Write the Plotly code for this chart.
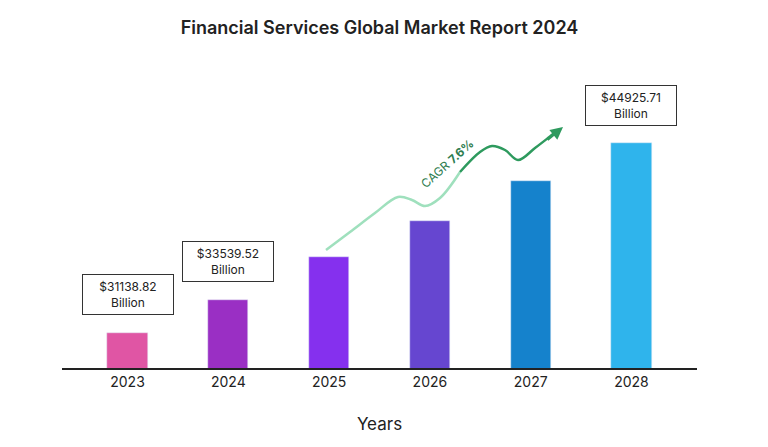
import plotly.graph_objects as go

years = ["2023", "2024", "2025", "2026", "2027", "2028"]
values = [31138.82, 33539.52, 36650, 39270, 42170, 44925.71]
colors = ["#e055a4", "#9a2fc4", "#8530ee", "#6646d0", "#1582cc", "#2fb4ec"]
labels = {0: "$31138.82<br>Billion", 1: "$33539.52<br>Billion", 5: "$44925.71<br>Billion"}

fig = go.Figure()
fig.add_trace(go.Bar(x=list(range(6)), y=values, marker_color=colors, width=0.4,
                     showlegend=False, hoverinfo="skip"))

wx = [326, 350, 375, 398, 412, 425, 440, 460, 480, 492, 505, 518, 535, 548, 558]
wy = [250, 232, 213, 197, 200, 206, 198, 172, 152, 146, 150, 160, 148, 138, 130]
fig.add_trace(go.Scatter(x=wx[:8], y=wy[:8], xaxis="x2", yaxis="y2", mode="lines",
                         line=dict(color="#9fe0bd", width=2.5, shape="spline"), showlegend=False))
fig.add_trace(go.Scatter(x=wx[7:], y=wy[7:], xaxis="x2", yaxis="y2", mode="lines",
                         line=dict(color="#2e9a5e", width=2.5, shape="spline"), showlegend=False))
fig.add_annotation(x=563, y=127, ax=546, ay=141, xref="x2", yref="y2", axref="x2", ayref="y2",
                   showarrow=True, arrowhead=2, arrowsize=1, arrowwidth=2.5, arrowcolor="#2e9a5e", text="")
fig.add_annotation(x=447, y=163, xref="x2", yref="y2", text="CAGR <b>7.6%</b>", showarrow=False,
                   textangle=-42, font=dict(size=12, color="#2e7d4f", family="Inter"))

for i, t in labels.items():
    fig.add_annotation(x=i, y=values[i], xref="x", yref="y", text=t, showarrow=False,
                       yshift=38, font=dict(size=12, color="#222", family="Inter"),
                       bordercolor="#333", borderwidth=1, borderpad=4, bgcolor="white", width=82)

fig.update_layout(
    width=768, height=447, plot_bgcolor="white", paper_bgcolor="white",
    margin=dict(l=54, r=79, t=52, b=87, autoexpand=False), bargap=0,
    title=dict(text="Financial Services Global Market Report 2024", x=0.5, xref="paper",
               y=0.955, yref="container", xanchor="center", yanchor="middle",
               font=dict(size=18, color="#222", family="Inter", weight=600)),
    xaxis=dict(range=[-0.65, 5.65], tickvals=list(range(6)), ticktext=years, showgrid=False,
               showline=True, linecolor="#222", linewidth=1.5, ticks="", zeroline=False,
               automargin=False,
               tickfont=dict(size=14, color="#222", family="Inter"),
               title=dict(text="Years", font=dict(size=17, color="#222", family="Inter"), standoff=30)),
    yaxis=dict(range=[28598, 50950], visible=False, showgrid=False, automargin=False),
    xaxis2=dict(range=[62, 697], overlaying="x", visible=False),
    yaxis2=dict(range=[368, 60], overlaying="y", visible=False),
)
fig.write_html("out.html")
